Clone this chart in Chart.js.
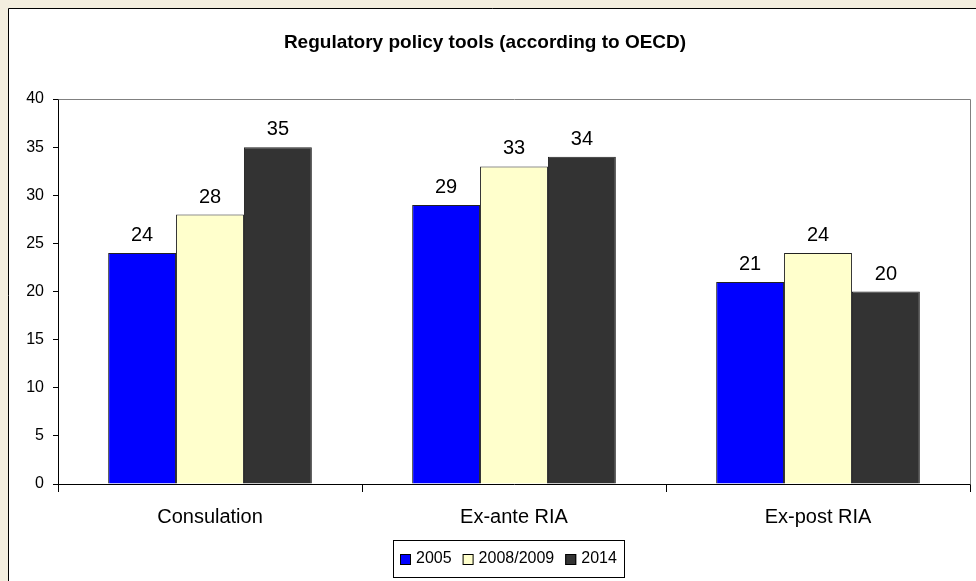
<!DOCTYPE html>
<html>
<head>
<meta charset="utf-8">
<script src="https://cdn.jsdelivr.net/npm/chart.js@4.4.1/dist/chart.umd.min.js"></script>
<style>
html,body{margin:0;padding:0;background:#f3eedf;}
#wrap{position:relative;width:976px;height:581px;}
canvas{display:block;}
</style>
</head>
<body>
<div id="wrap"><canvas id="c" width="976" height="581"></canvas></div>
<script>
const categories = ["Consulation", "Ex-ante RIA", "Ex-post RIA"];
const seriesNames = ["2005", "2008/2009", "2014"];
const values2005 = [24, 29, 21];
const values2008 = [28, 33, 24];
const values2014 = [35, 34, 20];
const yTicks = [0, 5, 10, 15, 20, 25, 30, 35, 40];
const titleText = "Regulatory policy tools (according to OECD)";

const FONT = "'Liberation Sans', Arial, sans-serif";

const bgPlugin = {
  id: 'bgPlugin',
  beforeDraw(chart) {
    const ctx = chart.ctx;
    ctx.save();
    ctx.fillStyle = '#f3eedf';
    ctx.fillRect(0, 0, chart.width, chart.height);
    ctx.fillStyle = '#ffffff';
    ctx.fillRect(8, 8, chart.width, chart.height);
    ctx.strokeStyle = '#000';
    ctx.lineWidth = 1;
    ctx.beginPath();
    ctx.moveTo(8.5, chart.height + 2);
    ctx.lineTo(8.5, 8.5);
    ctx.lineTo(chart.width + 2, 8.5);
    ctx.stroke();
    ctx.restore();
  },
  beforeDatasetsDraw(chart) {
    const a = chart.chartArea;
    const ctx = chart.ctx;
    ctx.save();
    ctx.strokeStyle = '#808080';
    ctx.lineWidth = 1;
    ctx.beginPath();
    ctx.moveTo(Math.round(a.left) + 0.5, Math.round(a.top) + 0.5);
    ctx.lineTo(Math.round(a.right) + 0.5, Math.round(a.top) + 0.5);
    ctx.lineTo(Math.round(a.right) + 0.5, Math.round(a.bottom) + 0.5);
    ctx.stroke();
    ctx.restore();
  },
  afterDatasetsDraw(chart) {
    const ctx = chart.ctx;
    ctx.save();
    ctx.fillStyle = '#000';
    ctx.font = '20px ' + FONT;
    ctx.textAlign = 'center';
    ctx.textBaseline = 'alphabetic';
    chart.data.datasets.forEach((ds, i) => {
      const meta = chart.getDatasetMeta(i);
      meta.data.forEach((bar, j) => {
        ctx.fillText(String(ds.data[j]), bar.x, bar.y - 12);
      });
    });
    ctx.restore();
  },
  afterDraw(chart) {
    // legend drawn from the datasets
    const ctx = chart.ctx;
    ctx.save();
    ctx.font = '16px ' + FONT;
    const box = 11, gapText = 5, gapItem = 11, padX = 7;
    const items = chart.data.datasets.map(ds => ({ text: ds.label, color: ds.backgroundColor, w: ctx.measureText(ds.label).width }));
    let total = 0;
    items.forEach((it, i) => { total += box + gapText + it.w + (i < items.length - 1 ? gapItem : 0); });
    const cx = 508;
    const frameW = Math.round(total + padX * 2);
    const frameX = Math.round(cx - frameW / 2);
    const frameY = 540, frameH = 37;
    ctx.strokeStyle = '#000';
    ctx.lineWidth = 1;
    ctx.strokeRect(frameX + 0.5, frameY + 0.5, frameW, frameH);
    const midY = frameY + frameH / 2 + 0.5;
    let x = frameX + padX;
    items.forEach(it => {
      ctx.fillStyle = it.color;
      ctx.fillRect(x, Math.round(midY - box / 2), box, box);
      ctx.strokeStyle = '#000';
      ctx.strokeRect(x + 0.5, Math.round(midY - box / 2) + 0.5, box - 1, box - 1);
      ctx.fillStyle = '#000';
      ctx.textAlign = 'left';
      ctx.textBaseline = 'middle';
      ctx.fillText(it.text, x + box + gapText, midY);
      x += box + gapText + it.w + gapItem;
    });
    ctx.restore();
  }
};

new Chart(document.getElementById('c'), {
  type: 'bar',
  data: {
    labels: categories,
    datasets: [
      { label: seriesNames[0], data: values2005, backgroundColor: '#0000ff', borderColor: '#222', borderWidth: 1 },
      { label: seriesNames[1], data: values2008, backgroundColor: '#ffffcc', borderColor: '#222', borderWidth: 1 },
      { label: seriesNames[2], data: values2014, backgroundColor: '#333333', borderColor: '#222', borderWidth: 1 }
    ]
  },
  plugins: [bgPlugin],
  options: {
    responsive: false,
    animation: false,
    events: [],
    layout: { padding: { left: 0, right: 6, top: 8, bottom: 47 } },
    datasets: { bar: { categoryPercentage: 0.67, barPercentage: 1.0 } },
    plugins: {
      title: {
        display: true,
        text: titleText,
        color: '#000',
        font: { family: FONT, size: 19, weight: 'bold' },
        padding: { top: 23, bottom: 45.2 }
      },
      legend: { display: false },
      tooltip: { enabled: false }
    },
    scales: {
      x: {
        afterFit(scale) { scale.height = 50; },
        grid: { display: true, drawOnChartArea: false, tickLength: 8, color: '#000', offset: true },
        border: { display: true, color: '#000' },
        ticks: { color: '#000', font: { family: FONT, size: 20 }, padding: 13 }
      },
      y: {
        min: 0, max: 40,
        afterBuildTicks(scale) { scale.ticks = yTicks.map(v => ({ value: v })); },
        afterFit(scale) { scale.width = 58; },
        grid: { display: true, drawOnChartArea: false, tickLength: 5, color: '#000' },
        border: { display: true, color: '#000' },
        ticks: { color: '#000', font: { family: FONT, size: 16 }, padding: 9 }
      }
    }
  }
});
</script>
</body>
</html>
